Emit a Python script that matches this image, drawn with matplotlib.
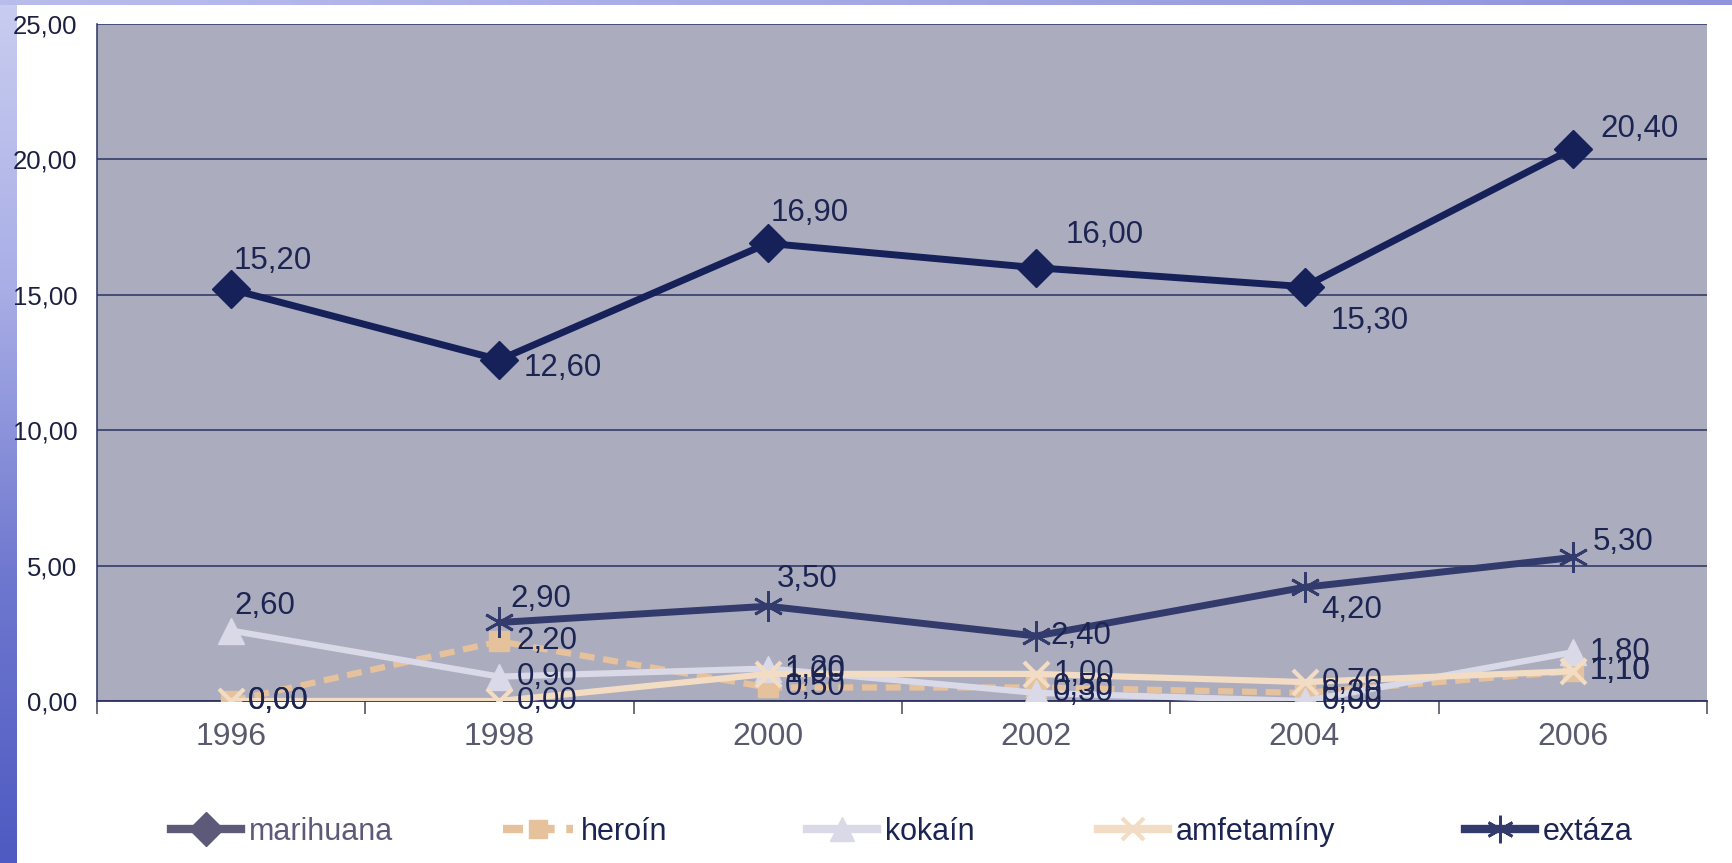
import numpy as np
import matplotlib.pyplot as plt
from matplotlib.lines import Line2D
from matplotlib.colors import LinearSegmentedColormap

plt.rcParams['font.family'] = ['Liberation Sans', 'DejaVu Sans']

years = ['1996', '1998', '2000', '2002', '2004', '2006']
marihuana = [15.2, 12.6, 16.9, 16.0, 15.3, 20.4]
heroin = [0.0, 2.2, 0.5, 0.5, 0.3, 1.1]
kokain = [2.6, 0.9, 1.2, 0.3, 0.0, 1.8]
amfetaminy = [0.0, 0.0, 1.0, 1.0, 0.7, 1.1]
extaza = [np.nan, 2.9, 3.5, 2.4, 4.2, 5.3]
names = ['marihuana', 'heroín', 'kokaín', 'amfetamíny', 'extáza']

navy = '#16215a'
label_col = '#1c2452'

fig = plt.figure(figsize=(17.33, 8.63), dpi=100)
fig.patch.set_facecolor('white')

# blue slide background strips
W, H = 1733, 863
slide = LinearSegmentedColormap.from_list('slide', ['#c9cdf0', '#a9aee6', '#6f78cf', '#4f5ac2'])
sax = fig.add_axes([0, 0, 17 / W, 1])
sax.imshow(np.linspace(0, 1, 256).reshape(-1, 1), aspect='auto', cmap=slide)
sax.axis('off')
tax = fig.add_axes([0, 1 - 5 / H, 1, 5 / H])
tax.imshow(np.linspace(0, 1, 256).reshape(1, -1), aspect='auto',
           cmap=LinearSegmentedColormap.from_list('top', ['#b9bdec', '#8f94dc']))
tax.axis('off')

ax = fig.add_axes([97 / W, 1 - 701 / H, 1610 / W, 677 / H])
ax.set_facecolor('#abacbe')
x = np.arange(len(years))

styles = [
    dict(color=navy, lw=5.0, ls='-', marker='D', ms=19.5, mec=navy, mew=1),
    dict(color='#e6c29c', lw=4.5, ls=(0, (2.4, 1.4)), marker='s', ms=15, mec='#e6c29c'),
    dict(color='#d9d9e7', lw=4.5, ls='-', marker='^', ms=19, mec='#d9d9e7'),
    dict(color='#f3dcc4', lw=4.5, ls='-', marker='x', ms=18, mew=3, mec='#f3dcc4'),
    dict(color='#333a6c', lw=5.0, ls='-', marker=(6, 2, 0), ms=22, mew=2.0, mec='#333a6c'),
]
series = [marihuana, heroin, kokain, amfetaminy, extaza]

for vals, st in zip(series, styles):
    ax.plot(x, vals, zorder=3, **st)

# data label offsets in pixels (default right of point)
offsets = {
    (0, 0): (2, 28), (0, 1): (24, -8), (0, 2): (3, 30), (0, 3): (29, 33),
    (0, 4): (26, -34), (0, 5): (28, 20),
    (4, 1): (11, 23), (4, 2): (9, 27), (4, 3): (14, 0), (4, 4): (17, -23),
    (4, 5): (20, 15),
    (2, 0): (3, 25),
}
for si, vals in enumerate(series):
    for i, v in enumerate(vals):
        if np.isnan(v):
            continue
        dx, dy = offsets.get((si, i), (17, 0))
        ax.annotate(f'{v:.2f}'.replace('.', ','), (x[i], v), xytext=(dx, dy),
                    textcoords='offset pixels', ha='left', va='center',
                    fontsize=22.5, color=label_col, zorder=5)

ax.set_xlim(-0.5, 5.5)
ax.set_ylim(0, 25)
ax.set_yticks(np.arange(0, 26, 5))
ax.set_yticklabels([f'{t:.2f}'.replace('.', ',') for t in np.arange(0, 26, 5)],
                   fontsize=18.5, color='#1c2040')
ax.yaxis.grid(True, color='#2c3262', lw=1.1)
ax.set_axisbelow(True)
ax.tick_params(axis='y', length=0, pad=14)

ax.set_xticks(x)
ax.set_xticklabels(years, fontsize=23, color='#5a5a6e')
ax.set_xticks(np.arange(-0.5, 6, 1), minor=True)
ax.tick_params(axis='x', which='major', length=0, pad=15)
ax.tick_params(axis='x', which='minor', length=9, width=1.2, color='#555566')

for s in ['top', 'right']:
    ax.spines[s].set_visible(False)
ax.spines['left'].set_color('#2c3262')
ax.spines['left'].set_linewidth(1.1)
ax.spines['bottom'].set_color('#2c3262')
ax.spines['bottom'].set_linewidth(1.3)

# legend: one entry per slot, as in the original
legend_colors = ['#5c5a78', '#e6c29c', '#d9d9e7', '#f3dcc4', '#333a6c']
text_colors = ['#5c5a78', '#1c2452', '#1c2452', '#1c2452', '#1c2452']
slot_x = [171, 503, 807, 1098, 1465]
for st, c, tc, name, sx in zip(styles, legend_colors, text_colors, names, slot_x):
    h = dict(st)
    h['color'] = c
    h['mec'] = c
    h['ms'] = h['ms'] * 0.9
    h['lw'] = 6
    handle = Line2D([], [], **h)
    leg = fig.legend([handle], [name], loc='center left',
                     bbox_to_anchor=(sx / W, 1 - 832 / H), frameon=False,
                     fontsize=22, handlelength=2.3, handletextpad=0.25,
                     borderpad=0, borderaxespad=0)
    leg.get_texts()[0].set_color(tc)

fig.savefig('out.png', dpi=100, facecolor='white')
